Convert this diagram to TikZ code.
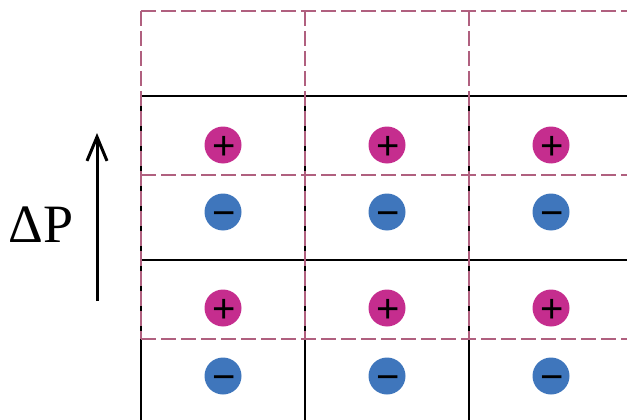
\documentclass[tikz,border=0pt]{standalone}
\usepackage{fontspec}
\setmainfont{Liberation Serif}
\newfontfamily\chargefont{Liberation Sans}
\usetikzlibrary{arrows.meta}
\definecolor{plusc}{HTML}{C52D8E}
\definecolor{minusc}{HTML}{3F76BC}
\definecolor{dashc}{HTML}{B0607F}
\tikzset{
  charge/.style={circle,minimum size=37pt,inner sep=0pt,font=\chargefont\fontsize{40}{40}\selectfont,text height=28pt,text depth=0pt,text width=22pt,align=center},
  poscharge/.style={charge,fill=plusc},
  negcharge/.style={charge,fill=minusc},
  solidgrid/.style={black,line width=1.2pt},
  dashgrid/.style={dashc,line width=1.4pt,dash pattern=on 15pt off 5pt},
}
\begin{document}
\begin{tikzpicture}[x=1pt,y=-1pt]
\useasboundingbox (0,0) rectangle (627,420);
\begin{scope}
\clip (0,0) rectangle (627,420);
% solid grid
\foreach \x in {141,305,469} \draw[solidgrid] (\x,96) -- (\x,430);
\foreach \y in {96,260} \draw[solidgrid] (141,\y) -- (640,\y);
% dashed grid
\foreach \x in {141,305,469} \draw[dashgrid] (\x,11) -- (\x,339);
\foreach \y in {11,175,339} \draw[dashgrid] (141,\y) -- (640,\y);
\end{scope}
% charges
\foreach \x/\n in {223/a,387/b,551/c}{
  \node[poscharge] (p1\n) at (\x,145) {+};
  \node[negcharge] (m1\n) at (\x,212) {−};
  \node[poscharge] (p2\n) at (\x,308) {+};
  \node[negcharge] (m2\n) at (\x,376) {−};
}
% arrow
\coordinate (as) at (97,301);
\coordinate (ae) at (97,133);
\draw[line width=3pt,-{Straight Barb[length=24pt,width=20pt,line width=3pt]}] (as) -- (ae);
\node[font=\fontsize{54}{54}\selectfont] (dp) at (41,225) {ΔP};
\end{tikzpicture}
\end{document}
